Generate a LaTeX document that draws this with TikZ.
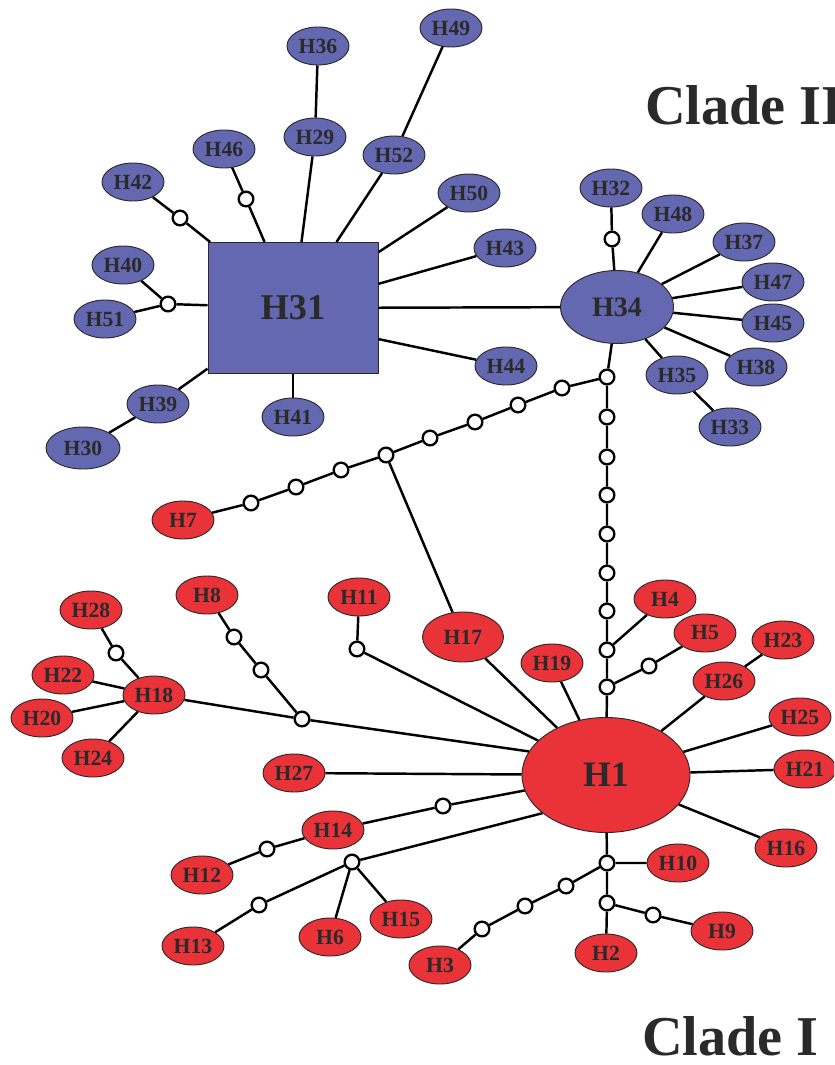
\documentclass[tikz,border=0pt]{standalone}
\usepackage{fontspec}
\setmainfont{Liberation Serif}
\usetikzlibrary{shapes.geometric}
\definecolor{hblue}{RGB}{100,104,176}
\definecolor{hred}{RGB}{234,50,57}
\definecolor{txt}{RGB}{42,42,42}
\tikzset{
  hap/.style={ellipse, draw=txt, line width=0.8pt, inner sep=0pt,
    minimum width=1.86cm, minimum height=1.14cm, text=txt,
    font=\fontsize{18.5}{20}\selectfont\bfseries},
  hb/.style={hap, fill=hblue},
  hr/.style={hap, fill=hred},
  mv/.style={circle, draw=black, fill=white, line width=2pt, inner sep=0pt, minimum size=0.44cm},
  link/.style={line width=2.1pt, black},
  clade/.style={anchor=base west, text=txt, font=\fontsize{48}{50}\selectfont\bfseries, inner sep=0pt, text depth=0pt}
}
\begin{document}
\begin{tikzpicture}[x=0.03cm,y=-0.03cm]
\clip (0,0) rectangle (834,1065);
\fill[white] (0,0) rectangle (834,1065);
% ---------- Clade II ----------
\node[rectangle, draw=txt, line width=0.8pt, fill=hblue, minimum width=5.1cm, minimum height=3.93cm, text=txt, font=\fontsize{31}{33}\selectfont\bfseries] (H31) at (293,308) {H31};
\node[hb, minimum width=3.39cm, minimum height=2.19cm, font=\fontsize{24}{26}\selectfont\bfseries] (H34) at (617,307) {H34};
\node[hb] (H36) at (318,46) {H36};
\node[hb] (H29) at (315,137) {H29};
\node[hb] (H46) at (224,149) {H46};
\node[hb] (H42) at (133,182) {H42};
\node[hb] (H52) at (394,155) {H52};
\node[hb] (H49) at (451,28) {H49};
\node[hb] (H40) at (123,265) {H40};
\node[hb] (H51) at (105,319) {H51};
\node[hb] (H39) at (158,404) {H39};
\node[hb, minimum width=2.22cm, minimum height=1.26cm] (H30) at (83,448) {H30};
\node[hb] (H41) at (293,417) {H41};
\node[hb] (H50) at (469,193) {H50};
\node[hb] (H43) at (505,248) {H43};
\node[hb] (H44) at (506,366) {H44};
\node[hb] (H32) at (611,188) {H32};
\node[hb] (H48) at (673,214) {H48};
\node[hb] (H37) at (744,242) {H37};
\node[hb] (H47) at (773,282) {H47};
\node[hb] (H45) at (773,323) {H45};
\node[hb] (H38) at (756,367) {H38};
\node[hb] (H35) at (677,375) {H35};
\node[hb] (H33) at (730,427) {H33};
\node[mv] (c42) at (180,218) {};
\node[mv] (c46) at (246,199) {};
\node[mv] (c40) at (168,304) {};
\node[mv] (c32) at (612,239) {};
% ---------- Clade I ----------
\node[hr, minimum width=5.04cm, minimum height=3.45cm, font=\fontsize{30.5}{32}\selectfont\bfseries] (H1) at (606,775) {H1};
\node[hr, minimum width=2.43cm, minimum height=1.5cm] (H17) at (463,637) {H17};
\node[hr] (H19) at (552,663) {H19};
\node[hr] (H4) at (665,599) {H4};
\node[hr] (H5) at (705,633) {H5};
\node[hr] (H23) at (783,640) {H23};
\node[hr] (H26) at (724,681) {H26};
\node[hr] (H25) at (800,717) {H25};
\node[hr] (H21) at (805,769) {H21};
\node[hr] (H16) at (786,848) {H16};
\node[hr] (H10) at (678,863) {H10};
\node[hr] (H9) at (722,931) {H9};
\node[hr] (H2) at (606,953) {H2};
\node[hr] (H3) at (440,965) {H3};
\node[hr] (H6) at (330,937) {H6};
\node[hr] (H15) at (401,919) {H15};
\node[hr] (H13) at (193,946) {H13};
\node[hr] (H12) at (202,875) {H12};
\node[hr] (H14) at (333,830) {H14};
\node[hr] (H27) at (294,773) {H27};
\node[hr] (H18) at (154,695) {H18};
\node[hr] (H28) at (91,610) {H28};
\node[hr] (H22) at (63,675) {H22};
\node[hr] (H20) at (42,718) {H20};
\node[hr] (H24) at (93,758) {H24};
\node[hr] (H8) at (207,595) {H8};
\node[hr] (H11) at (359,597) {H11};
\node[hr] (H7) at (183,520) {H7};
% median vectors
\node[mv] (v0) at (607,377) {};
\node[mv] (v1) at (607,417) {};
\node[mv] (v2) at (607,457) {};
\node[mv] (v3) at (607,495) {};
\node[mv] (v4) at (607,534) {};
\node[mv] (v5) at (607,573) {};
\node[mv] (v6) at (607,611) {};
\node[mv] (v7) at (607,650) {};
\node[mv] (v8) at (607,687) {};
\node[mv] (c5) at (649,666) {};
\node[mv] (d1) at (562,388) {};
\node[mv] (d2) at (518,405) {};
\node[mv] (d3) at (475,422) {};
\node[mv] (d4) at (430,438) {};
\node[mv] (d5) at (386,455) {};
\node[mv] (d6) at (341,470) {};
\node[mv] (d7) at (296,487) {};
\node[mv] (d8) at (251,503) {};
\node[mv] (c28) at (116,653) {};
\node[mv] (h8a) at (234,637) {};
\node[mv] (h8b) at (261,670) {};
\node[mv] (j8) at (302,719) {};
\node[mv] (c11) at (357,649) {};
\node[mv] (c14) at (443,806) {};
\node[mv] (c12) at (267,849) {};
\node[mv] (j6) at (352,862) {};
\node[mv] (c13) at (259,905) {};
\node[mv] (jb) at (607,863) {};
\node[mv] (b1) at (566,886) {};
\node[mv] (b2) at (525,906) {};
\node[mv] (b3) at (482,929) {};
\node[mv] (jb2) at (607,903) {};
\node[mv] (c9) at (653,915) {};
% ---------- connectors, Clade II ----------
\draw[link] (H36) -- (H29) -- (H31);
\draw[link] (H49) -- (H52) -- (H31);
\draw[link] (H46) -- (c46) -- (H31);
\draw[link] (H42) -- (c42) -- (H31);
\draw[link] (H40) -- (c40) -- (H31);
\draw[link] (H51) -- (c40);
\draw[link] (H30) -- (H39) -- (H31);
\draw[link] (H41) -- (H31);
\draw[link] (H50) -- (H31);
\draw[link] (H43) -- (H31);
\draw[link] (H44) -- (H31.-20);
\draw[link] (H31) -- (H34);
\draw[link] (H32) -- (c32) -- (H34);
\draw[link] (H48) -- (H34);
\draw[link] (H37) -- (H34);
\draw[link] (H47) -- (H34);
\draw[link] (H45) -- (H34);
\draw[link] (H38) -- (H34);
\draw[link] (H33) -- (H35) -- (H34);
\draw[link] (H34) -- (v0);
% ---------- connectors, between clades ----------
\draw[link] (v0) -- (v1) -- (v2) -- (v3) -- (v4) -- (v5) -- (v6) -- (v7) -- (v8) -- (H1);
\draw[link] (v0) -- (d1) -- (d2) -- (d3) -- (d4) -- (d5) -- (d6) -- (d7) -- (d8) -- (H7);
\draw[link] (d5) -- (H17) -- (H1);
% ---------- connectors, Clade I ----------
\draw[link] (v7) -- (H4);
\draw[link] (v8) -- (c5) -- (H5);
\draw[link] (H19) -- (H1);
\draw[link] (H23) -- (H26) -- (H1);
\draw[link] (H25) -- (H1);
\draw[link] (H21) -- (H1);
\draw[link] (H16) -- (H1);
\draw[link] (H27) -- (H1);
\draw[link] (H11) -- (c11) -- (H1);
\draw[link] (H8) -- (h8a) -- (h8b) -- (j8) -- (H1.163);
\draw[link] (H18) -- (j8);
\draw[link] (H28) -- (c28) -- (H18);
\draw[link] (H22) -- (H18);
\draw[link] (H20) -- (H18);
\draw[link] (H24) -- (H18);
\draw[link] (H12) -- (c12) -- (H14) -- (c14) -- (H1);
\draw[link] (H13) -- (c13) -- (j6) -- (H1.211);
\draw[link] (H6) -- (j6);
\draw[link] (H15) -- (j6);
\draw[link] (H1) -- (jb) -- (H10);
\draw[link] (jb) -- (b1) -- (b2) -- (b3) -- (H3);
\draw[link] (jb) -- (jb2) -- (H2);
\draw[link] (jb2) -- (c9) -- (H9);
% ---------- labels ----------
\node[clade] (cl2) at (645,124) {Clade II};
\node[clade] (cl1) at (642,1055) {Clade I};
\end{tikzpicture}
\end{document}
